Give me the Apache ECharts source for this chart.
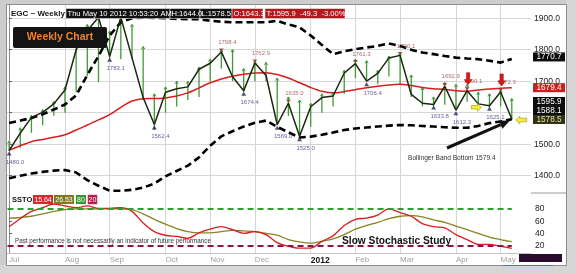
<!DOCTYPE html>
<html><head><meta charset="utf-8">
<script src="https://cdn.jsdelivr.net/npm/echarts@6/dist/echarts.min.js"></script>
<style>html,body{margin:0;padding:0;background:#fff;}#c{width:576px;height:274px;}</style>
</head><body><div id="c"></div>
<script>
// ---------- data ----------
const weekDates = ['2011-07-01','2011-07-08','2011-07-15','2011-07-22','2011-07-29','2011-08-05','2011-08-12','2011-08-19','2011-08-26','2011-09-02','2011-09-09','2011-09-16','2011-09-23','2011-09-30','2011-10-07','2011-10-14','2011-10-21','2011-10-28','2011-11-04','2011-11-11','2011-11-18','2011-11-25','2011-12-02','2011-12-09','2011-12-16','2011-12-23','2011-12-30','2012-01-06','2012-01-13','2012-01-20','2012-01-27','2012-02-03','2012-02-10','2012-02-17','2012-02-24','2012-03-02','2012-03-09','2012-03-16','2012-03-23','2012-03-30','2012-04-06','2012-04-13','2012-04-20','2012-04-27','2012-05-04','2012-05-11'];
const monthStartIdx = [0,5,9,14,18,22,27,31,35,40,44];
const monthLabels = ['Jul','Aug','Sep','Oct','Nov','Dec','2012','Feb','Mar','Apr','May'];
const priceTicks = [1400,1500,1600,1700,1800,1900];
const stochTicks = [20,40,60,80];
const stochLevels = [80,20];

const close = [1480,1535,1585,1601,1628,1672,1800,1860,1903,1778,1903,1775,1648,1562.4,1665,1676,1682,1738,1757,1793,1714,1670,1758,1718,1562,1630,1525,1619,1648,1653,1726,1756,1700,1725,1774,1782,1658,1630,1626,1684,1608,1670,1628,1622,1666,1580];
const high  = [1510,1552,1592,1610,1636,1682,1815,1880,1912,1860,1910,1880,1810,1660,1682,1700,1700,1745,1770,1800,1800,1740,1765,1760,1710,1650,1640,1630,1660,1665,1735,1770,1765,1735,1780,1790,1720,1680,1650,1695,1690,1690,1665,1660,1672,1645];
const low   = [1478,1488,1536,1560,1590,1600,1665,1716,1697,1770,1770,1770,1640,1545,1600,1620,1640,1650,1700,1740,1700,1665,1700,1700,1560,1590,1522,1555,1600,1620,1660,1710,1700,1690,1715,1690,1650,1620,1620,1625,1612,1635,1620,1615,1620,1578];
const ma20  = [1481,1495,1508,1515,1522,1530,1545,1561,1577,1594,1617,1637,1644,1645,1647,1653,1663,1679,1695,1707,1716,1722,1726,1727,1721,1710,1695,1680,1668,1663,1667,1673,1679,1684,1688,1690,1686,1680,1676,1674,1670,1668,1672,1675,1678,1679.4];
const bbUpper = [1567,1575,1583,1595,1610,1626,1655,1720,1780,1845,1887,1900,1902,1901,1900,1898,1897,1897,1892,1889,1887,1887,1887,1887,1892,1880,1871,1845,1815,1786,1795,1802,1807,1812,1820,1812,1800,1791,1786,1780,1775,1772,1770,1765,1759,1770.7];
const bbLower = [1392,1400,1407,1412,1416,1418,1410,1386,1368,1352,1352,1355,1362,1375,1398,1415,1432,1458,1495,1525,1541,1556,1568,1575,1555,1538,1521,1524,1530,1537,1545,1550,1553,1556,1559,1561,1560,1558,1556,1554,1552,1552,1558,1567,1572,1579.4];
const stochK = [51,64,76,82,88,85,82,85,81,81,82,76,57,43,37,35,32,41,47,51,46,40,43,38,25,19,16,16,27,36,53,63,65,70,80,74,68,56,51,49,38,30,22,22,19,15.64];
const stochD = [65,66,68,72,76,79,80,80,80,80,80,79,72,63,55,48,43,41,41,43,45,44,43,40,37,30,26,24,27,31,38,47,53,58,64,68,69,67,62,58,52,46,40,34,30,26.53];

const swingHighIdx = [8,10,19,22,25,31,35,39,41,44];
const swingHighLabels = ['','','1798.4','1762.9','1635.0','1761.3','1790.1','1692.9','1690.1','1672.3'];
const swingLowIdx = [0,9,13,21,24,26,32,38,40,43];
const swingLowLabels = ['1480.0','1783.1','1562.4','1674.4','1569.0','1525.0','1706.4','1633.8','1612.3','1625.1'];

const lastTrade = 1595.9, lastMid = 1588.1, lastLow = 1578.5;
const headerItems = [
  {text:'Thu May 10 2012 10:53:20 AM', bg:'#111'},
  {text:'H:1644.0', bg:'#111'},
  {text:'L:1578.5', bg:'#111'},
  {text:'O:1643.3', bg:'#b3191c'},
  {text:'T:1595.9  -49.3  -3.00%', bg:'#b3191c'}
];
const stochBadges = [
  {text:stochK[stochK.length-1].toFixed(2), bg:'#d42a2a'},
  {text:stochD[stochD.length-1].toFixed(2), bg:'#7d7a1e'},
  {text:String(stochLevels[0]), bg:'#2f9a2f'},
  {text:String(stochLevels[1]), bg:'#b01848'}
];

// ---------- chart ----------
const FONT = '"Liberation Sans", Arial, sans-serif';
const chart = echarts.init(document.getElementById('c'), null, {renderer:'canvas'});
const last = close.length - 1;
const xMin = -0.19, xMax = 46.72;
const gridCol = '#d6d6d6';

const xBase = (gi, showLabels) => ({
  gridIndex: gi, type:'value', min:xMin, max:xMax,
  axisLine:{show: gi===1, onZero:false, lineStyle:{color:'#c4c4c4'}},
  axisTick:{show:false, customValues: monthStartIdx},
  splitLine:{show:true, lineStyle:{color:gridCol, width:1}},
  axisLabel:{
    show: showLabels, customValues: monthStartIdx, align:'left', margin:3,
    formatter: v => { const t = monthLabels[monthStartIdx.indexOf(Math.round(v))] || ''; return t==='2012' ? '{y|'+t+'}' : '{m|'+t+'}'; },
    rich:{ m:{color:'#a0a0a0', fontSize:8, fontFamily:FONT}, y:{color:'#111', fontSize:8.5, fontWeight:'bold', fontFamily:FONT} }
  }
});

const swingHighData = swingHighIdx.map((i,k)=>({value:[i, close[i]], label:{formatter: swingHighLabels[k]}}));
const swingLowData = swingLowIdx.map((i,k)=>({value:[i, close[i]], label:{formatter: swingLowLabels[k]}}));

chart.setOption({
  animation:false,
  backgroundColor:'#ffffff',
  textStyle:{fontFamily:FONT},
  grid:[
    {left:7, right:45, top:5, height:188, containLabel:false, outerBoundsMode:'none'},
    {left:7, right:45, top:193, height:60, containLabel:false, outerBoundsMode:'none'}
  ],
  xAxis:[ xBase(0,false), xBase(1,true) ],
  yAxis:[
    {gridIndex:0, type:'value', position:'right', min:1345, max:1942,
     axisLine:{show:true, lineStyle:{color:'#8c8c8c'}},
     axisTick:{show:true, customValues:priceTicks, length:3, lineStyle:{color:'#666'}},
     axisLabel:{customValues:priceTicks, formatter:v=>v.toFixed(1), color:'#222', fontSize:8.5, margin:3, fontFamily:FONT},
     splitLine:{show:true, lineStyle:{color:gridCol}}},
    {gridIndex:1, type:'value', position:'right', min:8, max:106,
     axisLine:{show:true, lineStyle:{color:'#8c8c8c'}},
     axisTick:{show:true, customValues:stochTicks, length:3, lineStyle:{color:'#666'}},
     axisLabel:{customValues:stochTicks, formatter:v=>String(v), color:'#222', fontSize:8.5, margin:4, fontFamily:FONT},
     splitLine:{show:false}}
  ],
  series:[
    {type:'line', name:'BB upper', xAxisIndex:0, yAxisIndex:0, data:bbUpper.map((v,i)=>[i,v]), symbol:'none', z:3,
     lineStyle:{color:'#000', width:2.6, type:[7,4]}},
    {type:'line', name:'BB lower', xAxisIndex:0, yAxisIndex:0, data:bbLower.map((v,i)=>[i,v]), symbol:'none', z:3,
     lineStyle:{color:'#000', width:2.6, type:[7,4]}},
    {type:'line', name:'MA', xAxisIndex:0, yAxisIndex:0, data:ma20.map((v,i)=>[i,v]), symbol:'none', z:3, smooth:0.3,
     lineStyle:{color:'#d41f1f', width:1.5}},
    {type:'custom', name:'HL', xAxisIndex:0, yAxisIndex:0, z:2,
     data: high.map((h,i)=>[i, low[i], h]),
     encode:{x:0, y:[1,2]},
     renderItem:(params, api)=>{
       const x = api.value(0);
       const p1 = api.coord([x, api.value(1)]);
       const p2 = api.coord([x, api.value(2)]);
       return {type:'group', children:[
         {type:'line', shape:{x1:p1[0], y1:p1[1], x2:p2[0], y2:p2[1]}, style:{stroke:'#3f9a35', lineWidth:1.3}},
         {type:'polyline', shape:{points:[[p2[0]-1.6,p2[1]+2.5],[p2[0],p2[1]],[p2[0]+1.6,p2[1]+2.5]]}, style:{stroke:'#3f9a35', fill:null, lineWidth:1}}
       ]};
     }},
    {type:'line', name:'Close', xAxisIndex:0, yAxisIndex:0, data:close.map((v,i)=>[i,v]), symbol:'none', z:4,
     lineStyle:{color:'#1d2611', width:1.5}},
    {type:'scatter', name:'SwingHigh', xAxisIndex:0, yAxisIndex:0, data:swingHighData, z:5,
     symbol:'triangle', symbolSize:[5,3], symbolRotate:180, symbolOffset:[0,-2], itemStyle:{color:'#9a3030'},
     label:{show:true, position:'top', distance:3, offset:[6,0], fontSize:6, color:'#9a4545', fontFamily:FONT}},
    {type:'scatter', name:'SwingLow', xAxisIndex:0, yAxisIndex:0, data:swingLowData, z:5,
     symbol:'triangle', symbolSize:[5,4], symbolOffset:[0,3], itemStyle:{color:'#1e2a5a'},
     label:{show:true, position:'bottom', distance:4, offset:[6,0], fontSize:6, color:'#3a3a80', fontFamily:FONT}},
    {type:'line', name:'%K', xAxisIndex:1, yAxisIndex:1, data:stochK.map((v,i)=>[i,v]), symbol:'none', z:4, smooth:0.3,
     lineStyle:{color:'#d81e1e', width:1.3},
     markLine:{silent:true, symbol:'none', label:{show:false},
       data:[
         [{coord:[xMin+0.05, stochLevels[0]], lineStyle:{color:'#2ea02e', width:2, type:[6,4]}},{coord:[last, stochLevels[0]]}],
         [{coord:[xMin+0.05, stochLevels[1]], lineStyle:{color:'#8e1445', width:2, type:[6,4]}},{coord:[last, stochLevels[1]]}]
       ]}},
    {type:'line', name:'%D', xAxisIndex:1, yAxisIndex:1, data:stochD.map((v,i)=>[i,v]), symbol:'none', z:3, smooth:0.3,
     lineStyle:{color:'#8a8224', width:1.3}}
  ]
});

// ---------- annotations ----------
const P = (i,v) => chart.convertToPixel({gridIndex:0}, [i,v]);
const g = [];
// frame
g.push({type:'rect', shape:{x:0,y:0,width:576,height:5}, style:{fill:'#cdcdcd'}, z:100});
g.push({type:'rect', shape:{x:0,y:0,width:7,height:274}, style:{fill:'#cdcdcd'}, z:100});
g.push({type:'rect', shape:{x:566,y:0,width:10,height:274}, style:{fill:'#d6d6d6'}, z:100});
g.push({type:'rect', shape:{x:0,y:265,width:576,height:9}, style:{fill:'#d6d6d6'}, z:100});
g.push({type:'rect', shape:{x:6.5,y:4.5,width:560,height:261}, style:{fill:null, stroke:'#8e8e8e', lineWidth:1}, z:101});
g.push({type:'line', shape:{x1:531,y1:193,x2:566,y2:193}, style:{stroke:'#9a9a9a', lineWidth:1}, z:50});
g.push({type:'rect', shape:{x:519,y:254,width:43,height:8}, style:{fill:'#2b0b2e'}, z:50});
g.push({type:'line', shape:{x1:503,y1:265.5,x2:553,y2:265.5}, style:{stroke:'#4a78c0', lineWidth:1}, z:102});

// header
g.push({type:'text', x:11, y:13.5, style:{text:'EGC ~ Weekly', font:'bold 8px '+FONT, fill:'#111', textVerticalAlign:'middle'}, z:60});
const hdrX = [66,170,200,232,265], hdrW = [104,30,32,31,80];
headerItems.forEach((h,k)=>{
  g.push({type:'rect', shape:{x:hdrX[k], y:8.5, width:hdrW[k], height:10}, style:{fill:h.bg, stroke:'#fff', lineWidth:0.5}, z:60});
  g.push({type:'text', x:hdrX[k]+1.5, y:13.7, style:{text:h.text, font:'7.6px '+FONT, fill:'#fff', textVerticalAlign:'middle'}, z:61});
});
// Weekly Chart box
g.push({type:'rect', shape:{x:13,y:27,width:94,height:21,r:2}, style:{fill:'#141414'}, z:60});
g.push({type:'text', x:60, y:37.5, style:{text:'Weekly Chart', font:'bold 10.5px '+FONT, fill:'#ee8132', textAlign:'center', textVerticalAlign:'middle'}, z:61});

// right badges
const badge = (y, text, bg, fg) => {
  g.push({type:'rect', shape:{x:533, y:y-4.5, width:32, height:9}, style:{fill:bg}, z:70});
  g.push({type:'text', x:549, y:y, style:{text:text, font:'8.2px '+FONT, fill:fg||'#fff', textAlign:'center', textVerticalAlign:'middle'}, z:71});
};
badge(P(last, bbUpper[last])[1]-2, bbUpper[last].toFixed(1), '#0c0c0c');
badge(P(last, ma20[last])[1], ma20[last].toFixed(1), '#d01c1c');
const yLow = P(last, lastLow)[1];
badge(yLow-18, lastTrade.toFixed(1), '#0c0c0c');
badge(yLow-9, lastMid.toFixed(1), '#0c0c0c');
badge(yLow, lastLow.toFixed(1), '#2f2f12', '#e8e4a8');

// red down arrows above last two swing highs
[41,44].forEach(i=>{
  const p = P(i, close[i]);
  const tipY = p[1]-6, x = p[0]+1;
  g.push({type:'polygon', shape:{points:[[x-1.7,tipY-12],[x+1.7,tipY-12],[x+1.7,tipY-5],[x+3.8,tipY-5],[x,tipY],[x-3.8,tipY-5],[x-1.7,tipY-5]]}, style:{fill:'#d61a1a', stroke:'#8a0d0d', lineWidth:0.5}, z:65});
});
// yellow arrows
(function(){
  const p = P(43, close[43]);
  const tx = p[0]-8, ty = p[1]+1.5;
  g.push({type:'polygon', shape:{points:[[tx-10,ty-1.8],[tx-4,ty-1.8],[tx-4,ty-4],[tx,ty],[tx-4,ty+4],[tx-4,ty+1.8],[tx-10,ty+1.8]]}, style:{fill:'#f2ee3a', stroke:'#9a9410', lineWidth:0.6}, z:65});
  const q = P(last, close[last]);
  const sx = q[0]+4, sy = q[1]+1;
  g.push({type:'polygon', shape:{points:[[sx,sy],[sx+4,sy-4],[sx+4,sy-1.8],[sx+11,sy-1.8],[sx+11,sy+1.8],[sx+4,sy+1.8],[sx+4,sy+4]]}, style:{fill:'#f2ee3a', stroke:'#9a9410', lineWidth:0.6}, z:65});
})();
// black arrow to bollinger bottom
(function(){
  const t = P(last, bbLower[last]);
  const tx = t[0]-2, ty = t[1]+1.5;
  const sx = 447, sy = 148;
  const ang = Math.atan2(ty-sy, tx-sx);
  const hl = 10, hw = 4.5;
  const bx = tx - hl*Math.cos(ang), by = ty - hl*Math.sin(ang);
  g.push({type:'line', shape:{x1:sx,y1:sy,x2:bx,y2:by}, style:{stroke:'#111', lineWidth:3}, z:65});
  g.push({type:'polygon', shape:{points:[[tx,ty],[bx+hw*Math.sin(ang), by-hw*Math.cos(ang)],[bx-hw*Math.sin(ang), by+hw*Math.cos(ang)]]}, style:{fill:'#111'}, z:65});
  g.push({type:'text', x:408, y:158, style:{text:'Bollinger Band Bottom '+bbLower[last].toFixed(1), font:'6.6px '+FONT, fill:'#333', textVerticalAlign:'middle'}, z:65});
})();

// stochastic header
g.push({type:'text', x:12, y:199.5, style:{text:'SSTO', font:'bold 7.5px '+FONT, fill:'#111', textVerticalAlign:'middle'}, z:60});
const sbX = [33,54,76,88], sbW = [20,20,10,9];
stochBadges.forEach((b,k)=>{
  g.push({type:'rect', shape:{x:sbX[k], y:195, width:sbW[k], height:9}, style:{fill:b.bg, stroke:k===3?'#e04070':null, lineWidth:0.6}, z:60});
  g.push({type:'text', x:sbX[k]+sbW[k]/2, y:199.7, style:{text:b.text, font:'7px '+FONT, fill:'#fff', textAlign:'center', textVerticalAlign:'middle'}, z:61});
});
g.push({type:'text', x:15, y:241, style:{text:'Past performance is not necessarily an indicator of future performance', font:'6.3px '+FONT, fill:'#333', textVerticalAlign:'middle'}, z:60});
g.push({type:'text', x:342, y:241, style:{text:'Slow Stochastic Study', font:'bold 10.2px '+FONT, fill:'#111', textVerticalAlign:'middle'}, z:60});

chart.setOption({graphic:g});
</script></body></html>
